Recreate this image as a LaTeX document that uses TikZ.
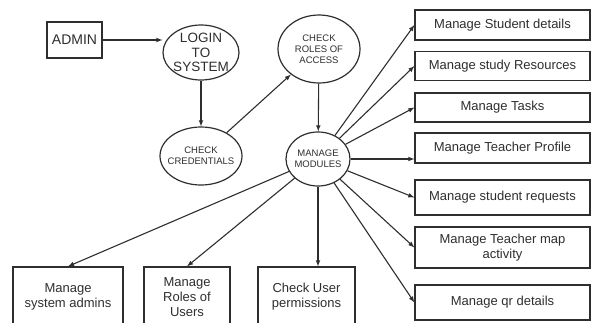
\documentclass[tikz,border=0pt]{standalone}
\usepackage{fontspec}
\setmainfont{Liberation Sans}
\usetikzlibrary{shapes.geometric}
\definecolor{ink}{HTML}{2E2E2E}
\tikzset{
  task/.style={draw=ink,line width=1.2pt,rectangle,inner sep=2pt,align=center,font=\fontsize{13}{15}\selectfont,text=ink},
  bubble/.style={draw=ink,line width=1.2pt,ellipse,inner sep=-8pt,align=center,font=\fontsize{9.5}{11}\selectfont,text=ink},
  flow/.style={draw=ink,line width=1.1pt,-latex}
}
\begin{document}
\begin{tikzpicture}[x=1pt,y=-1pt]
        \useasboundingbox (0,0) rectangle (592,322);
        \clip (0,0) rectangle (592,322);
        \node[task,minimum width=55,minimum height=36,font=\fontsize{14}{16}\selectfont] (admin) at (74.5,40) {ADMIN};
        \node[bubble,minimum width=76,minimum height=55,font=\fontsize{13.5}{14.5}\selectfont] (login) at (201,52.5) {LOGIN\\TO\\SYSTEM};
        \node[bubble,minimum width=82,minimum height=58] (cred) at (201,156) {CHECK\\CREDENTIALS};
        \node[bubble,minimum width=82,minimum height=68] (roles) at (319,49) {CHECK\\ROLES OF\\ACCESS};
        \node[bubble,minimum width=64,minimum height=54] (mods) at (318,159) {MANAGE\\MODULES};
        \node[task,minimum width=175,minimum height=30] (stud) at (502.5,25) {Manage Student details};
        \node[task,minimum width=175,minimum height=29] (res) at (502.5,66) {Manage study Resources};
        \node[task,minimum width=175,minimum height=29] (tasks) at (502.5,107.5) {Manage Tasks};
        \node[task,minimum width=175,minimum height=30] (prof) at (502.5,148) {Manage Teacher Profile};
        \node[task,minimum width=175,minimum height=35] (req) at (502.5,197.5) {Manage student requests};
        \node[task,minimum width=175,minimum height=41] (map) at (502.5,247.5) {Manage Teacher map\\activity};
        \node[task,minimum width=175,minimum height=35] (qr) at (502.5,302.5) {Manage qr details};
        \node[task,minimum width=110,minimum height=60] (sysad) at (68,297) {Manage\\system admins};
        \node[task,minimum width=86,minimum height=60] (urole) at (187,297) {Manage\\Roles of\\Users};
        \node[task,minimum width=97,minimum height=60] (perm) at (306.5,297) {Check User\\permissions};
        \draw[flow] (admin.east) -- (admin.east -| login.west);
        \draw[flow] (login) -- (cred);
        \draw[flow] (cred) -- (roles);
        \draw[flow] (roles) -- (mods);
        \draw[flow] (mods) -- (stud.west);
        \draw[flow] (mods) -- (res.west);
        \draw[flow] (mods) -- (tasks.west);
        \draw[flow] (mods.east) -- (mods.east -| prof.west);
        \draw[flow] (mods) -- (req.west);
        \draw[flow] (mods) -- (map.west);
        \draw[flow] (mods) -- (qr.west);
        \draw[flow] (mods) -- (sysad.north);
        \draw[flow] (mods) -- (urole.north);
        \draw[flow] (mods.south) -- (mods.south |- perm.north);
    \end{tikzpicture}
\end{document}
